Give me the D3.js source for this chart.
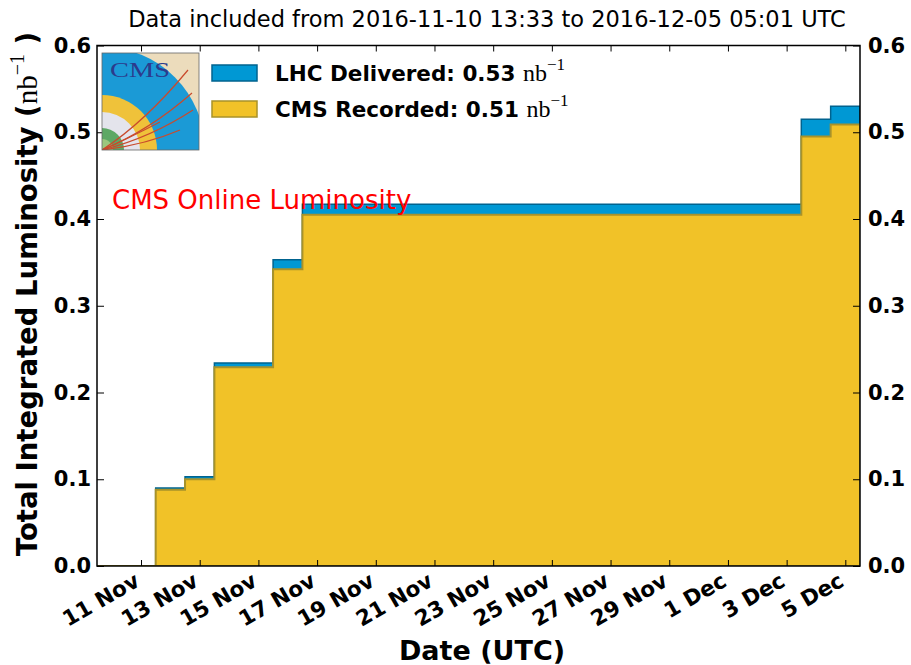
<!DOCTYPE html>
<html>
<head>
<meta charset="utf-8">
<script src="https://cdn.jsdelivr.net/npm/d3@7"></script>
<style>
  body { margin: 0; background: #fff; }
  svg { display: block; font-family: "DejaVu Sans", sans-serif; }
</style>
</head>
<body>
<svg id="chart" width="911" height="665"></svg>
<script>
// daily bins (UTC), cumulative luminosity in nb^-1
const days = [
  "2016-11-10", "2016-11-11", "2016-11-12", "2016-11-13", "2016-11-14", "2016-11-15",
  "2016-11-16", "2016-11-17", "2016-11-18", "2016-11-19", "2016-11-20", "2016-11-21",
  "2016-11-22", "2016-11-23", "2016-11-24", "2016-11-25", "2016-11-26", "2016-11-27",
  "2016-11-28", "2016-11-29", "2016-11-30", "2016-12-01", "2016-12-02", "2016-12-03",
  "2016-12-04", "2016-12-05"
];
const delivered = [
  0, 0, 0.090, 0.103, 0.234, 0.234,
  0.353, 0.417, 0.417, 0.417, 0.417, 0.417,
  0.417, 0.417, 0.417, 0.417, 0.417, 0.417,
  0.417, 0.417, 0.417, 0.417, 0.417, 0.417,
  0.515, 0.530
];
const recorded = [
  0, 0, 0.088, 0.100, 0.229, 0.229,
  0.342, 0.405, 0.405, 0.405, 0.405, 0.405,
  0.405, 0.405, 0.405, 0.405, 0.405, 0.405,
  0.405, 0.405, 0.405, 0.405, 0.405, 0.405,
  0.495, 0.509
];
const tickDays = [
  "2016-11-11", "2016-11-13", "2016-11-15", "2016-11-17", "2016-11-19", "2016-11-21",
  "2016-11-23", "2016-11-25", "2016-11-27", "2016-11-29", "2016-12-01", "2016-12-03",
  "2016-12-05"
];
const yTicks = [0, 0.1, 0.2, 0.3, 0.4, 0.5, 0.6];
const totalDelivered = "0.53";
const totalRecorded = "0.51";

const parseDay = d3.utcParse("%Y-%m-%d");
const HALF = 12 * 3600 * 1000;

const pLeft = 97, pRight = 860, pTop = 45.5, pBottom = 566;
const BLUE = "#0098d4", BLUE_EDGE = "#00638f";
const YELLOW = "#f1c228", YELLOW_EDGE = "#a8922a";
const SERIF = "Liberation Serif";

const svg = d3.select("#chart");

const x = d3.scaleUtc()
  .domain([new Date(+parseDay(days[0]) - HALF), new Date(+parseDay(days[days.length - 1]) + HALF)])
  .range([pLeft, pRight]);
const y = d3.scaleLinear().domain([0, 0.6]).range([pBottom, pTop]);

// step points: each bin starts half a day before its date
function stepPoints(vals) {
  const pts = days.map((d, i) => ({ t: new Date(+parseDay(d) - HALF), v: vals[i] }));
  pts.push({ t: new Date(+parseDay(days[days.length - 1]) + HALF), v: vals[vals.length - 1] });
  return pts;
}

const area = d3.area()
  .curve(d3.curveStepAfter)
  .x((d) => x(d.t))
  .y0(y(0))
  .y1((d) => y(d.v));

svg.append("clipPath").attr("id", "plotclip")
  .append("rect").attr("x", pLeft).attr("y", pTop)
  .attr("width", pRight - pLeft).attr("height", pBottom - pTop);

const gData = svg.append("g").attr("clip-path", "url(#plotclip)");
gData.append("path")
  .attr("d", area(stepPoints(delivered)))
  .attr("fill", BLUE).attr("stroke", BLUE_EDGE).attr("stroke-width", 1.5);
gData.append("path")
  .attr("d", area(stepPoints(recorded)))
  .attr("fill", YELLOW).attr("stroke", YELLOW_EDGE).attr("stroke-width", 2);

// axes, ticks pointing inward
const tickDates = tickDays.map(parseDay);
const fmt = d3.utcFormat("%-d %b");

const xBottom = svg.append("g").attr("transform", `translate(0,${pBottom})`)
  .call(d3.axisBottom(x).tickValues(tickDates).tickSize(-6).tickSizeOuter(0).tickFormat(""));
const xTop = svg.append("g").attr("transform", `translate(0,${pTop})`)
  .call(d3.axisTop(x).tickValues(tickDates).tickSize(-6).tickSizeOuter(0).tickFormat(""));
const yLeft = svg.append("g").attr("transform", `translate(${pLeft},0)`)
  .call(d3.axisLeft(y).tickValues(yTicks).tickSize(-7).tickSizeOuter(0).tickPadding(6).tickFormat(d3.format(".1f")));
const yRight = svg.append("g").attr("transform", `translate(${pRight},0)`)
  .call(d3.axisRight(y).tickValues(yTicks).tickSize(-7).tickSizeOuter(0).tickPadding(8).tickFormat(d3.format(".1f")));

[xBottom, xTop, yLeft, yRight].forEach((g) => {
  g.select(".domain").remove();
  g.selectAll(".tick line").attr("stroke", "#000").attr("stroke-width", 1);
});
[yLeft, yRight].forEach((g) => {
  g.selectAll(".tick text")
    .attr("font-family", "DejaVu Sans").attr("font-weight", "bold")
    .attr("font-size", 21).attr("fill", "#000");
});

// rotated date labels
svg.append("g").selectAll("text")
  .data(tickDates)
  .join("text")
  .attr("transform", (d) => `translate(${x(d)},${pBottom + 19}) rotate(-30)`)
  .attr("text-anchor", "end")
  .attr("font-weight", "bold")
  .attr("font-size", 21.5)
  .text((d) => fmt(d));

// frame
svg.append("rect")
  .attr("x", pLeft).attr("y", pTop)
  .attr("width", pRight - pLeft).attr("height", pBottom - pTop)
  .attr("fill", "none").attr("stroke", "#000").attr("stroke-width", 1.5);

// title
svg.append("text")
  .attr("x", 487).attr("y", 27)
  .attr("text-anchor", "middle")
  .attr("font-size", 22.5)
  .text("Data included from 2016-11-10 13:33 to 2016-12-05 05:01 UTC");

// axis labels
svg.append("text")
  .attr("x", 482).attr("y", 660)
  .attr("text-anchor", "middle")
  .attr("font-weight", "bold").attr("font-size", 27)
  .text("Date (UTC)");

const yLab = svg.append("text")
  .attr("transform", "translate(37,294) rotate(-90)")
  .attr("text-anchor", "middle")
  .attr("font-weight", "bold").attr("font-size", 27.5);
yLab.append("tspan").text("Total Integrated Luminosity (");
yLab.append("tspan").attr("font-family", SERIF).attr("font-weight", "normal").attr("font-size", 29).text("nb");
yLab.append("tspan").attr("font-family", SERIF).attr("font-weight", "normal")
  .attr("font-size", 20).attr("dy", -13).text("\u22121");
yLab.append("tspan").attr("dy", 13).text(" )");

// red label
svg.append("text")
  .attr("x", 112).attr("y", 209)
  .attr("fill", "#ff0000").attr("font-size", 26)
  .text("CMS Online Luminosity");

// legend
const legend = svg.append("g");
const legendItems = [
  { label: "LHC Delivered: " + totalDelivered, fill: BLUE, edge: BLUE_EDGE, y: 65 },
  { label: "CMS Recorded: " + totalRecorded, fill: YELLOW, edge: YELLOW_EDGE, y: 101 },
];
legendItems.forEach((it) => {
  legend.append("rect")
    .attr("x", 212).attr("y", it.y).attr("width", 45).attr("height", 16)
    .attr("fill", it.fill).attr("stroke", it.edge).attr("stroke-width", 1.5);
  const t = legend.append("text")
    .attr("x", 275).attr("y", it.y + 16)
    .attr("font-weight", "bold").attr("font-size", 21.5);
  t.append("tspan").text(it.label + " ");
  t.append("tspan").attr("font-family", SERIF).attr("font-weight", "normal").attr("font-size", 24).text("nb");
  t.append("tspan").attr("font-family", SERIF).attr("font-weight", "normal")
    .attr("font-size", 17).attr("dy", -11).text("\u22121");
});

// CMS logo (drawn, no image)
const lx = 102, ly = 53, ls = 97;
svg.append("clipPath").attr("id", "logoclip")
  .append("rect").attr("x", lx).attr("y", ly).attr("width", ls).attr("height", ls);
const logo = svg.append("g").attr("clip-path", "url(#logoclip)");
const ox = lx, oy = ly + ls;
logo.append("rect").attr("x", lx).attr("y", ly).attr("width", ls).attr("height", ls).attr("fill", "#ecdcbc");
[[103, "#1b9ad6"], [55, "#efc23a"], [38, "#e4e4ec"], [22, "#5da865"], [11, "#9cc77e"]].forEach(([r, c]) => {
  logo.append("circle").attr("cx", ox).attr("cy", oy).attr("r", r).attr("fill", c);
});
const tracks = [
  [[145, 122], [188, 70]],
  [[150, 130], [192, 93]],
  [[150, 138], [193, 110]],
  [[145, 145], [180, 130]],
  [[125, 140], [160, 122]],
];
tracks.forEach(([c, e]) => {
  logo.append("path")
    .attr("d", `M${ox},${oy} Q${c[0]},${c[1]} ${e[0]},${e[1]}`)
    .attr("fill", "none").attr("stroke", "#c94a2c").attr("stroke-width", 1.2);
});
logo.append("text")
  .attr("x", lx + 8).attr("y", ly + 24)
  .attr("font-family", SERIF).attr("font-size", 22)
  .attr("fill", "#2c3b8c")
  .attr("textLength", 60).attr("lengthAdjust", "spacingAndGlyphs")
  .text("CMS");
svg.append("rect").attr("x", lx).attr("y", ly).attr("width", ls).attr("height", ls)
  .attr("fill", "none").attr("stroke", "#666").attr("stroke-width", 0.8);
</script>
</body>
</html>
